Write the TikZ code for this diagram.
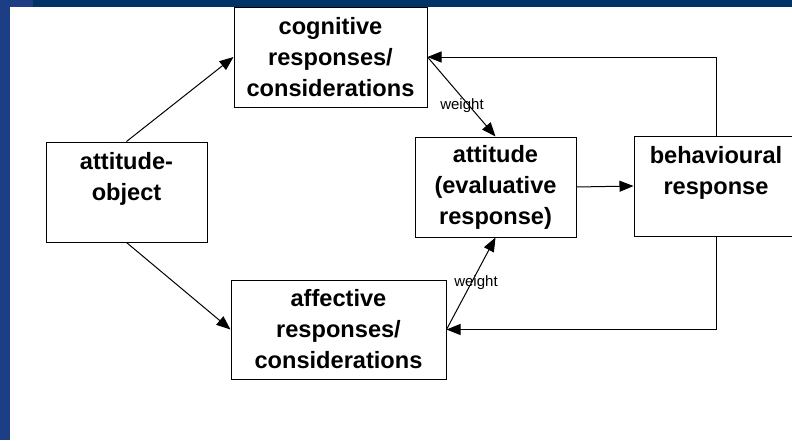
\documentclass[tikz,border=0pt]{standalone}
\usepackage{fontspec}
\setmainfont{Liberation Sans}
\usetikzlibrary{arrows.meta}
\definecolor{barblue}{RGB}{0,51,102}
\definecolor{stripblue}{RGB}{28,62,132}
\tikzset{
  box/.style={draw=black, line width=1pt, fill=white, inner sep=0pt, align=center,
    font=\fontsize{23.6}{31}\selectfont\bfseries},
  conn/.style={line width=1pt, -{Triangle[length=14pt,width=11pt]}},
  wlabel/.style={font=\fontsize{15}{17}\selectfont, inner sep=0pt}
}
\begin{document}
\begin{tikzpicture}[x=1pt,y=-1pt]
\useasboundingbox (0,0) rectangle (792,440);
\clip (0,0) rectangle (792,440);
\fill[white] (0,0) rectangle (792,440);
\fill[barblue] (0,0) rectangle (792,7);
\fill[stripblue] (0,0) rectangle (10,440);
\fill[stripblue] (0,0) rectangle (33,7);

\node[box, minimum width=193pt, minimum height=100pt] (cog) at (330.5,57) {cognitive\\responses/\\considerations};
\node[box, minimum width=161pt, minimum height=100pt] (att) at (495.5,187) {attitude\\(evaluative\\response)};
\node[box, minimum width=161pt, minimum height=100pt] (obj) at (126.5,192) {attitude-\\object\\~};
\node[box, minimum width=164pt, minimum height=100pt] (beh) at (716,186) {behavioural\\response\\~};
\node[box, minimum width=215pt, minimum height=99pt] (aff) at (338.5,329.5) {affective\\responses/\\considerations};

\draw[conn] (obj.north) -- (cog.west);
\draw[conn] (obj.south) -- (aff.west);
\draw[conn] (cog.east) -- (att.north);
\draw[conn] (aff.east) -- (att.south);
\draw[conn] (att.east) -- (beh.west);
\draw[conn] (beh.north) |- (cog.east);
\draw[conn] (beh.south) |- (aff.east);

\node[wlabel] (w1) at (462,106) {weight};
\node[wlabel] (w2) at (476,283) {weight};
\end{tikzpicture}
\end{document}
